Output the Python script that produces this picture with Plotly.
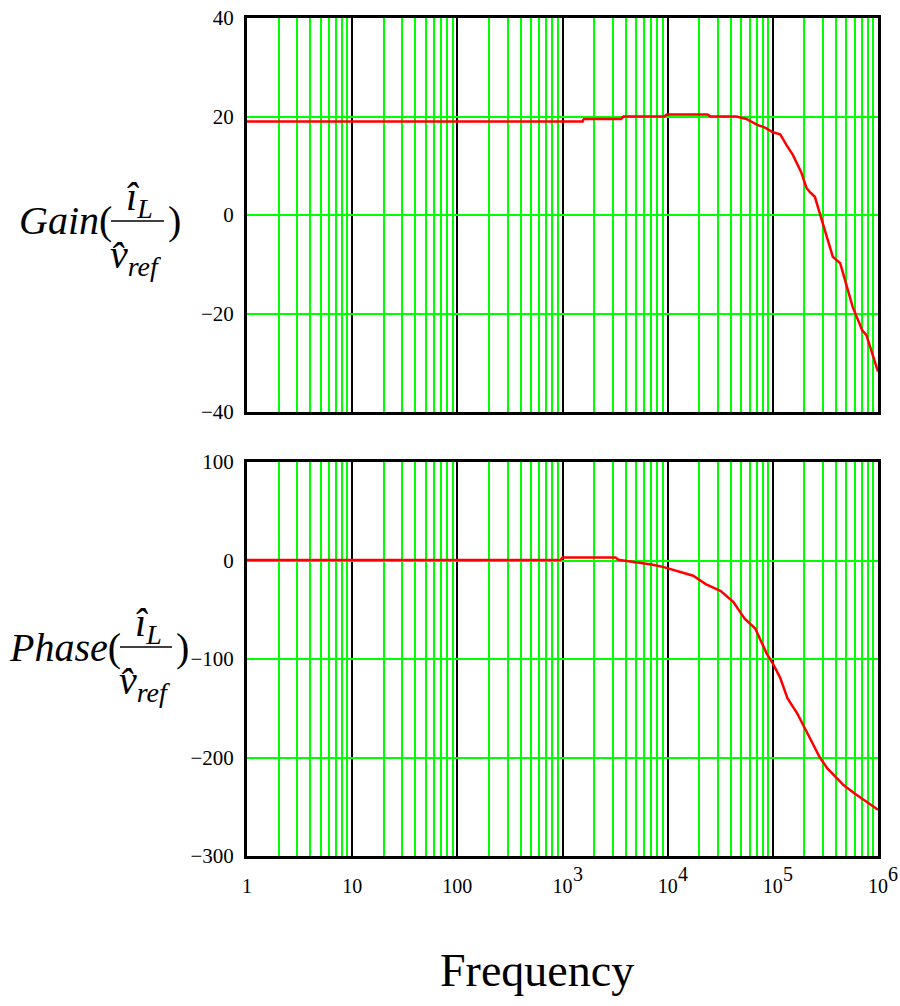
import math
import plotly.graph_objects as go

# ---------------- data ----------------
gain_freq = [1, 1550, 1600, 3600, 3800, 9300, 9800, 24000, 25500, 45000, 56000,
             63000, 71000, 81000, 87000, 100000, 117500, 135000, 155000, 186000,
             209000, 224000, 251000, 288000, 372000, 437000, 575000, 708000,
             776000, 1000000]
gain_db = [19.0, 19.0, 19.5, 19.5, 20.0, 20.0, 20.4, 20.4, 20.0, 20.0, 19.5,
           18.9, 18.3, 17.9, 17.6, 16.8, 16.4, 14.2, 12.2, 8.7,
           5.5, 4.7, 3.7, -0.6, -8.5, -9.8, -18.7, -23.4,
           -24.4, -31.8]

phase_freq = [1, 950, 1000, 3200, 3400, 5000, 7000, 9000, 13000, 17500, 23000,
              32000, 42000, 54000, 68000, 87000, 100000, 117000, 138000, 170000,
              190000, 235000, 280000, 330000, 470000, 600000, 780000, 900000,
              1000000]
phase_deg = [0.5, 0.5, 3.0, 3.0, 0.7, -1.5, -4.0, -6.5, -11.5, -15.5, -24.0,
             -31.0, -42.0, -59.0, -69.0, -94.0, -104.6, -118.6, -140.0, -155.0,
             -165.0, -185.0, -200.0, -211.0, -228.0, -236.6, -245.0, -249.0,
             -253.0]

decades = [1, 10, 100, 1e3, 1e4, 1e5, 1e6]
decade_labels = ["1", "10", "100", "10", "10", "10", "10"]
decade_exponents = ["", "", "", "3", "4", "5", "6"]
gain_ticks = [-40, -20, 0, 20, 40]
phase_ticks = [-300, -200, -100, 0, 100]

# ---------------- helpers ----------------
W, H = 900, 1006
def px(x):
    return x / W
def py(y):
    return 1 - y / H

minor_vals = [m * d for d in decades[:-1] for m in range(2, 10)]

GREEN = "#00FF00"
FONT = "Liberation Serif"

fig = go.Figure()
fig.add_trace(go.Scatter(x=gain_freq, y=gain_db, mode="lines",
                         line=dict(color="#FF0000", width=2.5),
                         xaxis="x", yaxis="y", showlegend=False))
fig.add_trace(go.Scatter(x=phase_freq, y=phase_deg, mode="lines",
                         line=dict(color="#FF0000", width=2.5),
                         xaxis="x2", yaxis="y2", showlegend=False))

def xax(show_labels, anchor):
    return dict(type="log", range=[0, 6], domain=[px(247), px(878)],
                anchor=anchor, automargin=False,
                tickmode="array", tickvals=decades, ticktext=decade_labels,
                showticklabels=show_labels, ticks="",
                showgrid=True, gridcolor="black", gridwidth=2,
                minor=dict(tickmode="array", tickvals=minor_vals, showgrid=True,
                           gridcolor=GREEN, gridwidth=2, ticks=""),
                showline=True, linecolor="black", linewidth=3, mirror=True,
                zeroline=False,
                tickfont=dict(family=FONT, size=20, color="black"),
                ticklabelstandoff=10)

def yax(ticks, rng, dom, anchor):
    return dict(range=rng, domain=dom, anchor=anchor, automargin=False,
                tickmode="array", tickvals=ticks, ticks="",
                showgrid=True, gridcolor=GREEN, gridwidth=2, zeroline=False,
                showline=True, linecolor="black", linewidth=3, mirror=True,
                tickfont=dict(family=FONT, size=21, color="black"),
                ticklabelstandoff=6)

fig.update_layout(
    width=W, height=H,
    margin=dict(l=0, r=0, t=0, b=0, autoexpand=False),
    paper_bgcolor="white", plot_bgcolor="white",
    xaxis=xax(False, "y"),
    yaxis=yax(gain_ticks, [-40, 40], [py(412), py(18)], "x"),
    xaxis2=xax(True, "y2"),
    yaxis2=yax(phase_ticks, [-300, 100], [py(856), py(462)], "x2"),
)

ann = []
def text(x, y, s, size, xanchor="center"):
    ann.append(dict(x=px(x), y=py(y), xref="paper", yref="paper", text=s,
                    showarrow=False, xanchor=xanchor, yanchor="middle",
                    font=dict(family=FONT, size=size, color="black")))

# exponents of the decade tick labels, placed through the x2 (log) axis scale
for v, e in zip(decades, decade_exponents):
    if e:
        ann.append(dict(x=math.log10(v), xref="x2", y=py(874), yref="paper",
                        text=e, showarrow=False, xanchor="center",
                        yanchor="middle", xshift=15,
                        font=dict(family=FONT, size=20, color="black")))

def ylabel(word, word_right, line_y, frac_left, frac_right):
    text(word_right, line_y, "<i>%s</i>(" % word, 40, "right")
    cx = (frac_left + frac_right) / 2
    text(cx + 2, line_y - 22, "<i>i&#770;</i><sub><i>L</i></sub>", 40)
    text(cx - 2, line_y + 36, "<i>v&#770;</i><sub><i>ref</i></sub>", 40)
    text(frac_right + 2, line_y, ")", 40, "left")
    fig.add_shape(type="line", xref="paper", yref="paper",
                  x0=px(frac_left), x1=px(frac_right),
                  y0=py(line_y), y1=py(line_y),
                  line=dict(color="black", width=1.5))

ylabel("Gain", 114, 221, 111, 164)
ylabel("Phase", 123, 647, 120, 172)

text(537, 970, "Frequency", 46)

fig.update_layout(annotations=ann)
fig.write_html("out.html", config={"displayModeBar": False},
               post_script="document.body.style.margin='0';")
